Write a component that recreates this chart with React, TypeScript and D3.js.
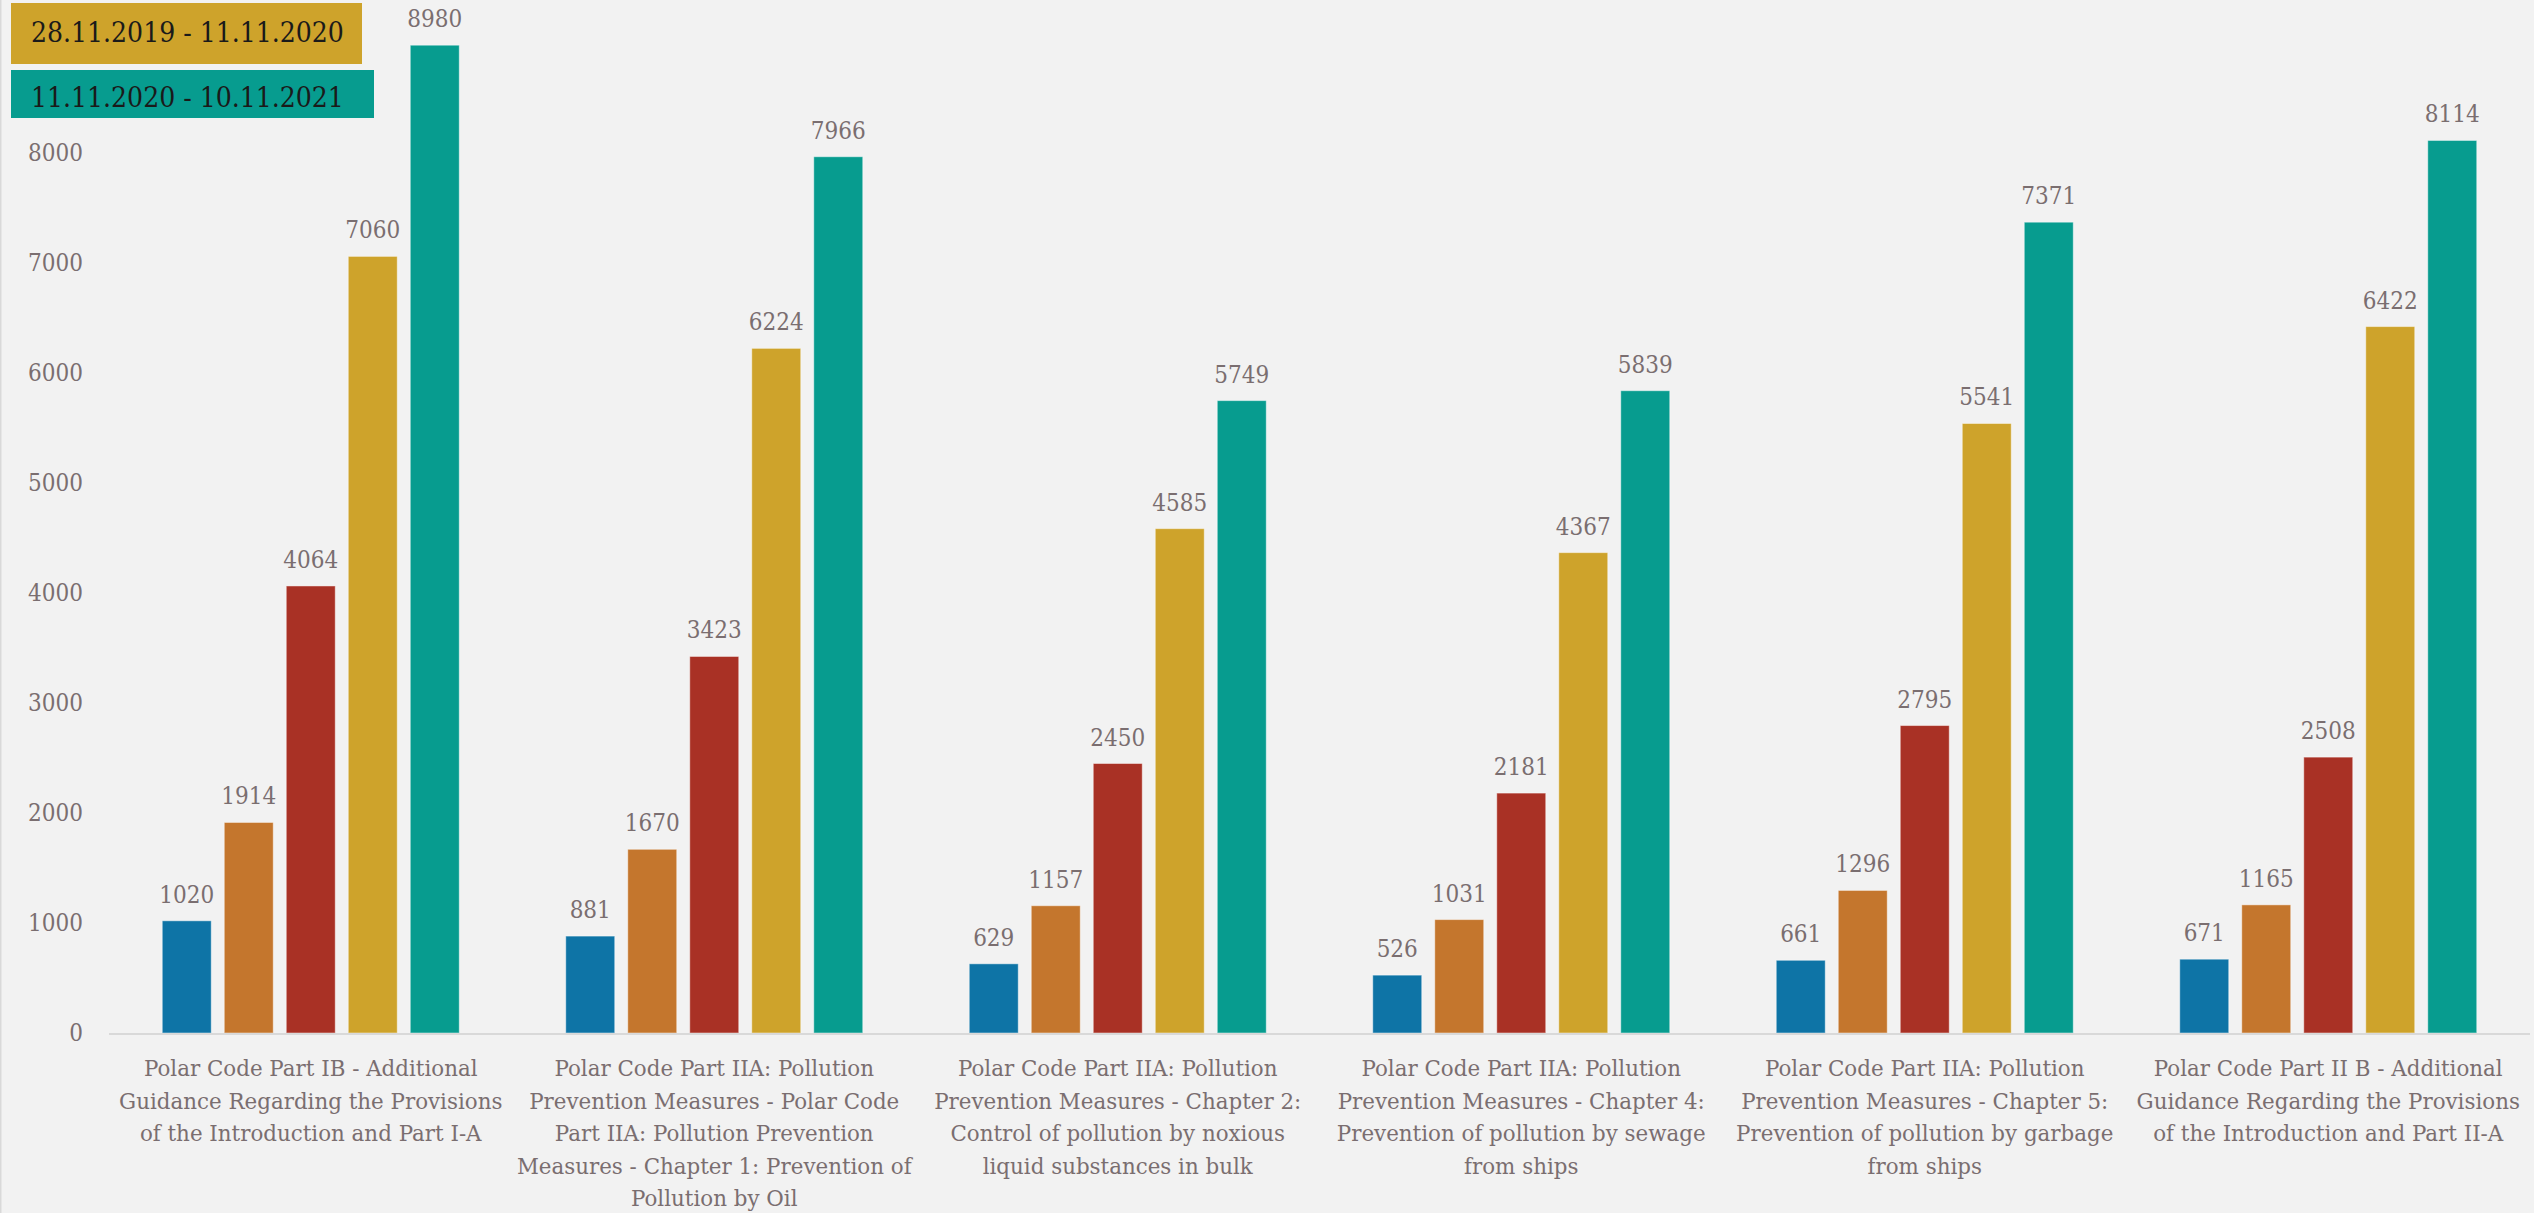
import * as d3 from "d3";

const W = 2534;
const H = 1213;

// category tick labels, already broken into the lines shown on the chart
const categories: string[][] = [
  ["Polar Code Part IB - Additional", "Guidance Regarding the Provisions", "of the Introduction and Part I-A"],
  ["Polar Code Part IIA: Pollution", "Prevention Measures - Polar Code", "Part IIA: Pollution Prevention", "Measures - Chapter 1: Prevention of", "Pollution by Oil"],
  ["Polar Code Part IIA: Pollution", "Prevention Measures - Chapter 2:", "Control of pollution by noxious", "liquid substances in bulk"],
  ["Polar Code Part IIA: Pollution", "Prevention Measures - Chapter 4:", "Prevention of pollution by sewage", "from ships"],
  ["Polar Code Part IIA: Pollution", "Prevention Measures - Chapter 5:", "Prevention of pollution by garbage", "from ships"],
  ["Polar Code Part II B - Additional", "Guidance Regarding the Provisions", "of the Introduction and Part II-A"],
];

const seriesNames = ["s1", "s2", "s3", "28.11.2019 - 11.11.2020", "11.11.2020 - 10.11.2021"];
const seriesColors = ["#0e74a6", "#c4762d", "#a93125", "#cea32b", "#079c8f"];

const s1 = [1020, 881, 629, 526, 661, 671];
const s2 = [1914, 1670, 1157, 1031, 1296, 1165];
const s3 = [4064, 3423, 2450, 2181, 2795, 2508];
const s4 = [7060, 6224, 4585, 4367, 5541, 6422];
const s5 = [8980, 7966, 5749, 5839, 7371, 8114];
const seriesValues = [s1, s2, s3, s4, s5];

const yTicks = [0, 1000, 2000, 3000, 4000, 5000, 6000, 7000, 8000];

// legend shows only the last two series
const legendSeries = [3, 4];

const plot = { left: 109, right: 2530, top: 43, bottom: 1033 };
const FONT = "'DejaVu Serif Condensed', 'DejaVu Serif', serif";
const CAT_FONT = "'DejaVu Serif', serif";
const TEXT = "#7a6e70";

export default function App() {
  const idx = categories.map((_, i) => i);

  const x0 = d3.scaleBand<number>().domain(idx).range([plot.left, plot.right]);
  const gw = 297; // width taken by one group of bars
  const off = (x0.bandwidth() - gw) / 2;
  const x1 = d3
    .scaleBand<number>()
    .domain(seriesNames.map((_, i) => i))
    .range([off, off + gw])
    .paddingInner(0.21);

  const y = d3.scaleLinear().domain([0, 9000]).range([plot.bottom, plot.top]);

  return (
    <svg
      width={W}
      height={H}
      style={{ position: "absolute", left: 0, top: 0, background: "#f2f2f2" }}
      fontFamily={FONT}
    >
      <rect x={0} y={0} width={W} height={H} fill="#f2f2f2" />
      <line x1={0.75} x2={0.75} y1={0} y2={H} stroke="#d9d9d9" strokeWidth={1.5} />

      {/* y axis labels */}
      {yTicks.map((t) => (
        <text key={t} x={83} y={y(t) + 8} textAnchor="end" fontSize={24} fill={TEXT}>
          {t}
        </text>
      ))}

      {/* bars */}
      {seriesValues.map((vals, s) =>
        vals.map((v, c) => (
          <rect
            key={`${s}-${c}`}
            x={x0(c)! + x1(s)!}
            y={y(v)}
            width={x1.bandwidth()}
            height={y(0) - y(v)}
            fill={seriesColors[s]}
            stroke="rgba(255,255,255,0.45)"
            strokeWidth={1}
          />
        ))
      )}

      {/* value labels */}
      {seriesValues.map((vals, s) =>
        vals.map((v, c) => (
          <text
            key={`l${s}-${c}`}
            x={x0(c)! + x1(s)! + x1.bandwidth() / 2}
            y={y(v) - 18}
            textAnchor="middle"
            fontSize={24}
            fill={TEXT}
          >
            {v}
          </text>
        ))
      )}

      {/* category axis */}
      <line x1={plot.left} x2={plot.right} y1={plot.bottom + 1} y2={plot.bottom + 1} stroke="#d9d9d9" strokeWidth={2} />
      {categories.map((lines, c) => (
        <text
          key={`c${c}`}
          x={x0(c)! + x0.bandwidth() / 2}
          y={1076}
          textAnchor="middle"
          fontSize={21.4}
          fontFamily={CAT_FONT}
          fill={TEXT}
        >
          {lines.map((ln, i) => (
            <tspan key={i} x={x0(c)! + x0.bandwidth() / 2} dy={i === 0 ? 0 : 32.5}>
              {ln}
            </tspan>
          ))}
        </text>
      ))}

      {/* legend */}
      {legendSeries.map((s, i) => (
        <g key={`lg${s}`}>
          <rect
            x={11}
            y={i === 0 ? 3 : 70}
            width={i === 0 ? 351 : 363}
            height={i === 0 ? 61 : 48}
            fill={seriesColors[s]}
          />
          <text x={31} y={i === 0 ? 42 : 107} fontSize={28} fill="#1a1a1a">
            {seriesNames[s]}
          </text>
        </g>
      ))}
    </svg>
  );
}
